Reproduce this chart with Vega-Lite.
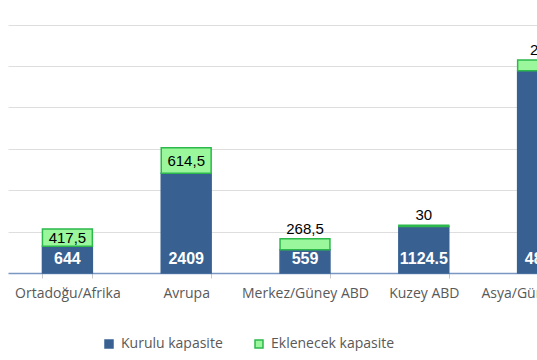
{
  "$schema": "https://vega.github.io/schema/vega-lite/v6.json",
  "width": 594,
  "height": 269,
  "padding": {"left": 8, "top": 4, "right": 0, "bottom": 0},
  "background": "white",
  "config": {
    "view": {"stroke": null},
    "font": "Open Sans"
  },
  "data": {
    "values": [
      {"region": "Ortadoğu/Afrika", "type": "Kurulu kapasite", "value": 644, "label": "644"},
      {"region": "Ortadoğu/Afrika", "type": "Eklenecek kapasite", "value": 417.5, "label": "417,5"},
      {"region": "Avrupa", "type": "Kurulu kapasite", "value": 2409, "label": "2409"},
      {"region": "Avrupa", "type": "Eklenecek kapasite", "value": 614.5, "label": "614,5"},
      {"region": "Merkez/Güney ABD", "type": "Kurulu kapasite", "value": 559, "label": "559"},
      {"region": "Merkez/Güney ABD", "type": "Eklenecek kapasite", "value": 268.5, "label": "268,5"},
      {"region": "Kuzey ABD", "type": "Kurulu kapasite", "value": 1124.5, "label": "1124.5"},
      {"region": "Kuzey ABD", "type": "Eklenecek kapasite", "value": 30, "label": "30"},
      {"region": "Asya/Güney Pasifik", "type": "Kurulu kapasite", "value": 4890, "label": "4890"},
      {"region": "Asya/Güney Pasifik", "type": "Eklenecek kapasite", "value": 255, "label": "255"}
    ]
  },
  "encoding": {
    "x": {
      "field": "region",
      "type": "nominal",
      "sort": null,
      "scale": {"paddingInner": 0.58, "paddingOuter": 0.29},
      "axis": {
        "title": null,
        "labelAngle": 0,
        "labelFont": "Open Sans",
        "labelFontSize": 14,
        "labelColor": "#595959",
        "labelPadding": 8,
        "tickBand": "extent",
        "tickSize": 5,
        "tickColor": "#c8c8c8",
        "domainColor": "#7a96c2",
        "domainWidth": 1.5,
        "grid": false
      }
    },
    "order": {"field": "type", "sort": "descending"}
  },
  "layer": [
    {
      "mark": {"type": "bar", "strokeWidth": 1.5},
      "encoding": {
        "y": {
          "field": "value",
          "type": "quantitative",
          "stack": "zero",
          "scale": {"domain": [0, 6500], "nice": false},
          "axis": {
            "title": null,
            "labels": false,
            "ticks": false,
            "domain": false,
            "values": [1000, 2000, 3000, 4000, 5000, 6000],
            "gridColor": "#dedede",
            "gridWidth": 1
          }
        },
        "color": {
          "field": "type",
          "type": "nominal",
          "scale": {"domain": ["Kurulu kapasite", "Eklenecek kapasite"], "range": ["#386192", "#9BF79B"]},
          "legend": {
            "title": null,
            "orient": "none",
            "direction": "horizontal",
            "legendX": 94,
            "legendY": 333,
            "symbolType": "square",
            "symbolSize": 64,
            "symbolStrokeWidth": 1.5,
            "labelFont": "Open Sans",
            "labelFontSize": 14,
            "labelColor": "#595959",
            "columnPadding": 29,
            "labelOffset": 5
          }
        },
        "stroke": {
          "field": "type",
          "type": "nominal",
          "scale": {"domain": ["Kurulu kapasite", "Eklenecek kapasite"], "range": ["#386192", "#2DB84C"]},
          "legend": null
        }
      }
    },
    {
      "mark": {"type": "text", "font": "Liberation Sans", "fontSize": 15, "color": "black", "baseline": "middle", "dy": 13},
      "encoding": {
        "y": {"field": "value", "type": "quantitative", "stack": "zero"},
        "text": {"field": "label"},
        "opacity": {
          "condition": {"test": "datum.type === 'Eklenecek kapasite' && datum.value > 600", "value": 1},
          "value": 0
        }
      }
    },
    {
      "mark": {"type": "text", "font": "Liberation Sans", "fontSize": 15, "color": "black", "baseline": "middle", "dy": 9},
      "encoding": {
        "y": {"field": "value", "type": "quantitative", "stack": "zero"},
        "text": {"field": "label"},
        "opacity": {
          "condition": {"test": "datum.type === 'Eklenecek kapasite' && datum.value > 400 && datum.value <= 600", "value": 1},
          "value": 0
        }
      }
    },
    {
      "mark": {"type": "text", "font": "Liberation Sans", "fontSize": 15, "color": "black", "baseline": "middle", "dy": -10},
      "encoding": {
        "y": {"field": "value", "type": "quantitative", "stack": "zero"},
        "text": {"field": "label"},
        "opacity": {
          "condition": {"test": "datum.type === 'Eklenecek kapasite' && datum.value <= 400", "value": 1},
          "value": 0
        }
      }
    },
    {
      "transform": [{"filter": "datum.type === 'Kurulu kapasite'"}],
      "mark": {"type": "text", "font": "Liberation Sans", "fontWeight": "bold", "fontSize": 16, "color": "white", "baseline": "middle", "dy": -14},
      "encoding": {
        "y": {"datum": 0, "type": "quantitative"},
        "text": {"field": "label"}
      }
    }
  ]
}
